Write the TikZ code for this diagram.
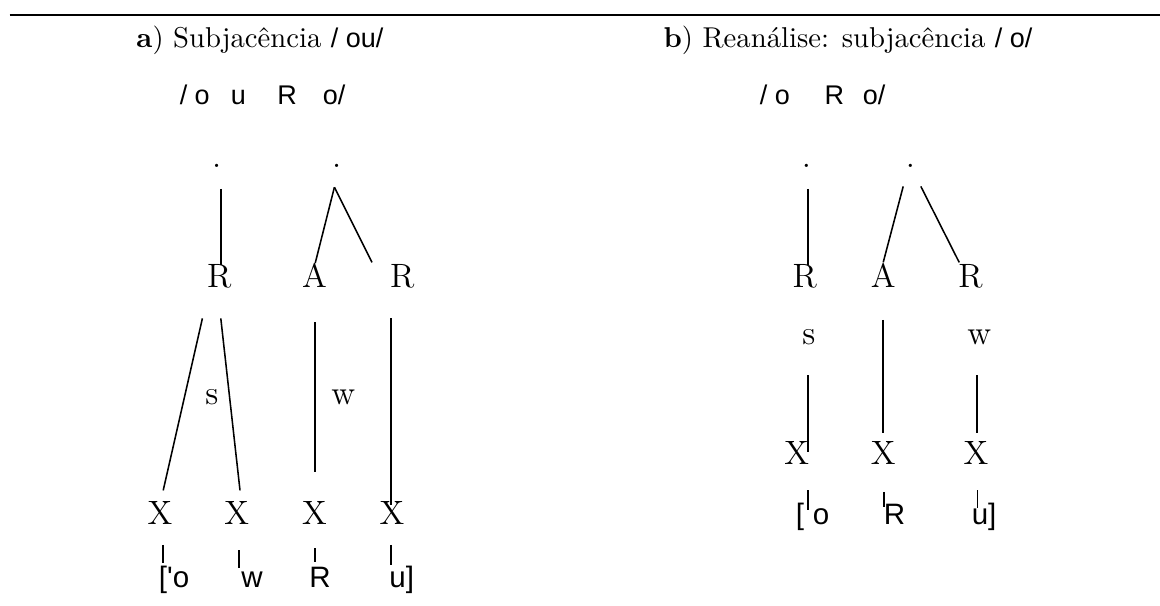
\documentclass[tikz,border=0pt]{standalone}
\usepackage{fontspec}
\newfontfamily\phonfont{Liberation Sans}
\usetikzlibrary{calc}
\tikzset{>=latex}
\tikzset{
  assoc/.style={line width=0.55pt},
  tlabel/.style={inner sep=0pt,anchor=base,font=\fontsize{12}{14}\selectfont},
  title/.style={inner sep=0pt,anchor=base,font=\fontsize{10.2}{12}\selectfont},
  ulabel/.style={inner sep=0pt,anchor=base west,font=\phonfont\fontsize{9.6}{11}\selectfont},
  slabel/.style={inner sep=0pt,anchor=base,font=\phonfont\fontsize{10.5}{12}\selectfont},
}

\begin{document}
\begin{tikzpicture}
  \useasboundingbox (0,0) rectangle (14.5,-7.575);
  \draw[line width=0.7pt] (0.12,-0.19) -- (14.5,-0.19);

  % Titles
  \node[title] (ta) at (3.25,-0.59) {\textbf{a}) Subjacência {\phonfont\fontsize{9.6}{11}\selectfont/ ou/}};
  \node[title] (tb) at (10.6,-0.59) {\textbf{b}) Reanálise: subjacência {\phonfont\fontsize{9.6}{11}\selectfont/ o/}};

  % Underlying forms
  \node[ulabel] (ua1) at (2.24,-1.31) {/ o};
  \node[ulabel,anchor=base] (ua2) at (2.98,-1.31) {u};
  \node[ulabel,anchor=base] (ua3) at (3.59,-1.31) {R};
  \node[ulabel] (ua4) at (4.03,-1.31) {o/};
  \node[ulabel] (ub1) at (9.49,-1.31) {/ o};
  \node[ulabel,anchor=base] (ub2) at (10.43,-1.31) {R};
  \node[ulabel] (ub3) at (10.78,-1.31) {o/};

  % Vertices (a)
  \coordinate (ad1) at (2.76,-2.36);
  \coordinate (ar1) at (2.76,-3.31);
  \coordinate (ad2) at (4.18,-2.34);
  \coordinate (aa)  at (3.94,-3.29);
  \coordinate (ar2) at (4.65,-3.28);
  \coordinate (ar1l) at (2.53,-3.98);
  \coordinate (ax1) at (2.04,-6.13);
  \coordinate (ar1r) at (2.76,-3.98);
  \coordinate (ax2) at (3.0,-6.13);
  \coordinate (aab) at (3.94,-4.03);
  \coordinate (ax3) at (3.94,-5.9);
  \coordinate (ar2b) at (4.89,-3.98);
  \coordinate (ax4) at (4.89,-6.31);

  % Vertices (b)
  \coordinate (bd1) at (10.1,-2.36);
  \coordinate (br1) at (10.1,-3.31);
  \coordinate (bd2l) at (11.29,-2.33);
  \coordinate (ba)  at (11.04,-3.28);
  \coordinate (bd2r) at (11.51,-2.33);
  \coordinate (br2) at (11.99,-3.28);
  \coordinate (bs)  at (10.1,-4.69);
  \coordinate (bx1) at (10.1,-5.65);
  \coordinate (bab) at (11.04,-4.0);
  \coordinate (bx2) at (11.04,-5.41);
  \coordinate (bw)  at (12.21,-4.69);
  \coordinate (bx3) at (12.21,-5.41);

  % Lines (a)
  \draw[assoc] (ad1) -- (ar1);
  \draw[assoc] (ad2) -- (aa);
  \draw[assoc] (ad2) -- (ar2);
  \draw[assoc] (ar1l) -- (ax1);
  \draw[assoc] (ar1r) -- (ax2);
  \draw[assoc] (aab) -- (ax3);
  \draw[assoc] (ar2b) -- (ax4);

  % Lines (b)
  \draw[assoc] (bd1) -- (br1);
  \draw[assoc] (bd2l) -- (ba);
  \draw[assoc] (bd2r) -- (br2);
  \draw[assoc] (bs) -- (bx1);
  \draw[assoc] (bab) -- (bx2);
  \draw[assoc] (bw) -- (bx3);

  % Labels (a)
  \node[tlabel] (pa1) at (2.71,-2.1) {.};
  \node[tlabel] (pa2) at (4.21,-2.1) {.};
  \node[tlabel] (ra1) at (2.74,-3.59) {R};
  \node[tlabel] (na)  at (3.93,-3.59) {A};
  \node[tlabel] (ra2) at (5.03,-3.59) {R};
  \node[tlabel] (sa)  at (2.65,-5.06) {s};
  \node[tlabel] (wa)  at (4.29,-5.06) {w};
  \node[tlabel] (xa1) at (2.0,-6.56) {X};
  \node[tlabel] (xa2) at (2.96,-6.56) {X};
  \node[tlabel] (xa3) at (3.93,-6.56) {X};
  \node[tlabel] (xa4) at (4.9,-6.56) {X};

  % Labels (b)
  \node[tlabel] (pb1) at (10.08,-2.1) {.};
  \node[tlabel] (pb2) at (11.38,-2.1) {.};
  \node[tlabel] (rb1) at (10.06,-3.59) {R};
  \node[tlabel] (nb)  at (11.04,-3.59) {A};
  \node[tlabel] (rb2) at (12.13,-3.59) {R};
  \node[tlabel] (sb)  at (10.11,-4.31) {s};
  \node[tlabel] (wb)  at (12.24,-4.31) {w};
  \node[tlabel] (xb1) at (9.96,-5.81) {X};
  \node[tlabel] (xb2) at (11.04,-5.81) {X};
  \node[tlabel] (xb3) at (12.2,-5.81) {X};

  % Surface forms
  \foreach \x/\y/\z in {2.04/-6.81/-7.04, 2.99/-6.88/-7.1, 3.94/-6.85/-7.03, 4.89/-6.81/-7.06,
                        10.1/-6.13/-6.38, 11.05/-6.15/-6.34, 12.22/-6.13/-6.35}
    \draw[assoc] (\x,\y) -- (\x,\z);
  \node[slabel,anchor=base west] (sa1) at (1.98,-7.34) {['o};
  \node[slabel] (sa2) at (3.15,-7.34) {w};
  \node[slabel] (sa3) at (4.0,-7.34) {R};
  \node[slabel,anchor=base west] (sa4) at (4.86,-7.34) {u]};
  \node[slabel,anchor=base west] (sb1) at (9.94,-6.56) {[\hspace{1.1mm}o};
  \node[slabel] (sb2) at (11.18,-6.56) {R};
  \node[slabel,anchor=base west] (sb3) at (12.14,-6.56) {u]};
\end{tikzpicture}
\end{document}
